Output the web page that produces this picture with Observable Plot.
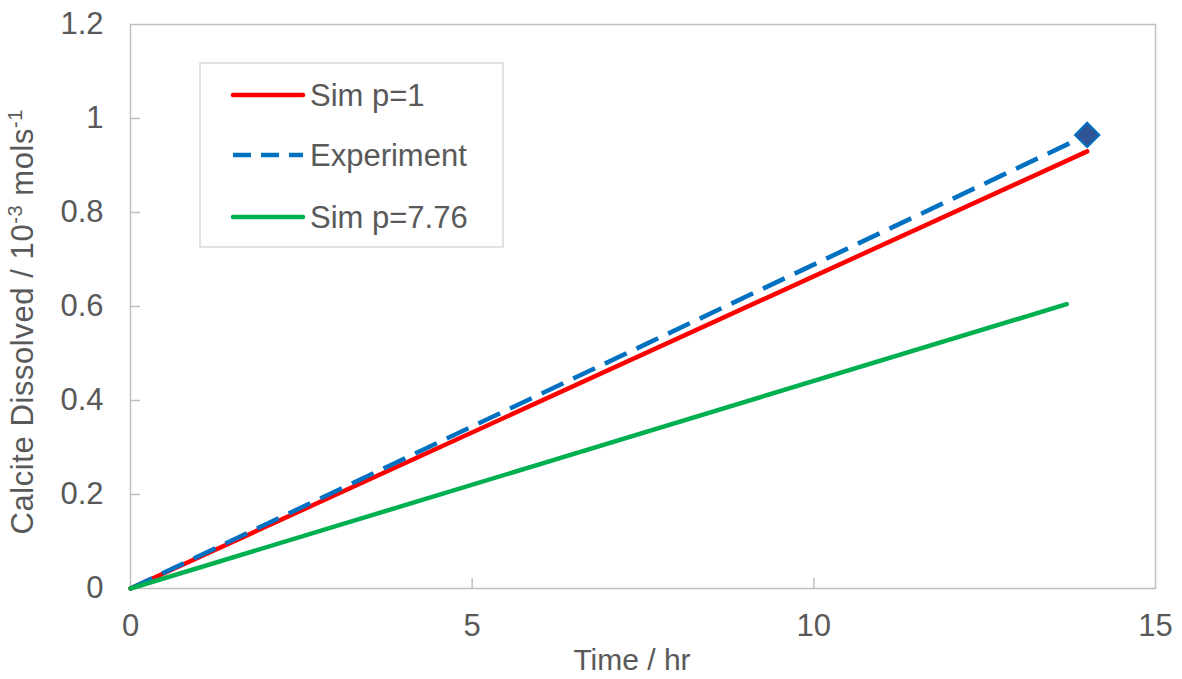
<!DOCTYPE html>
<html><head><meta charset="utf-8">
<script src="https://cdn.jsdelivr.net/npm/d3@7"></script>
<script src="https://cdn.jsdelivr.net/npm/@observablehq/plot@0.6"></script>
<style>body{margin:0;background:#fff;}</style>
</head><body><div id="chart"></div>
<script>
// ---- data ----
const simP1Time = [0, 14];
const simP1Value = [0, 0.93];
const expTime = [0, 14];
const expValue = [0, 0.965];
const simP776Time = [0, 13.7];
const simP776Value = [0, 0.605];
const xTicks = [0, 5, 10, 15];
const xTickLabels = ["0", "5", "10", "15"];
const yTicks = [0, 0.2, 0.4, 0.6, 0.8, 1, 1.2];
const yTickLabels = ["0", "0.2", "0.4", "0.6", "0.8", "1", "1.2"];
const seriesNames = ["Sim p=1", "Experiment", "Sim p=7.76"];
const seriesColors = ["#ff0000", "#0070c0", "#00b050"];
const xTitle = "Time / hr";

const rows = (ts, vs) => ts.map((t, i) => ({t, v: vs[i]}));
const sim1 = rows(simP1Time, simP1Value);
const exp = rows(expTime, expValue);
const sim776 = rows(simP776Time, simP776Value);

const W = 1182, H = 679;
const mL = 130, mR = 27, mT = 24, mB = 91;
const innerW = W - mL - mR, innerH = H - mT - mB;
const txt = "#595959", grid = "#bfbfbf";
const font = "'Liberation Sans', Arial, sans-serif";

const plot = Plot.plot({
  width: W, height: H,
  marginLeft: mL, marginRight: mR, marginTop: mT, marginBottom: mB,
  style: {fontFamily: font, fontSize: "31px", color: txt, background: "#fff"},
  x: {domain: [0, 15]},
  y: {domain: [0, 1.2]},
  marks: [
    Plot.axisX(xTicks, {tickSize: 0, tickPadding: 25, label: null, fill: txt,
      tickFormat: d => xTickLabels[xTicks.indexOf(d)]}),
    Plot.axisY(yTicks, {tickSize: 0, tickPadding: 27, label: null, fill: txt,
      tickFormat: d => yTickLabels[yTicks.indexOf(d)]}),
    Plot.tickX(xTicks.slice(1, -1), {x: d => d, stroke: grid, strokeWidth: 1.5, insetTop: innerH - 10}),
    Plot.tickY(yTicks.slice(1, -1), {y: d => d, stroke: grid, strokeWidth: 1.5, insetRight: innerW - 10}),
    Plot.frame({stroke: grid, strokeWidth: 1.5}),
    Plot.line(sim1, {x: "t", y: "v", stroke: seriesColors[0], strokeWidth: 4.5, strokeLinecap: "round"}),
    Plot.line(exp, {x: "t", y: "v", stroke: seriesColors[1], strokeWidth: 4.5, strokeDasharray: "24,11", strokeLinecap: "butt"}),
    Plot.dot(exp.slice(-1), {x: "t", y: "v", symbol: "diamond2", r: 11, fill: "#2f5597", stroke: seriesColors[1], strokeWidth: 2}),
    Plot.line(sim776, {x: "t", y: "v", stroke: seriesColors[2], strokeWidth: 4.5, strokeLinecap: "round"})
  ]
});

const svg = d3.select(plot);

// x axis title
svg.append("text")
  .attr("x", 632).attr("y", 670)
  .attr("text-anchor", "middle")
  .attr("font-family", font).attr("font-size", 30).attr("fill", txt)
  .text(xTitle);

// y axis title with superscripts
const yt = svg.append("text")
  .attr("transform", "translate(33,322) rotate(-90)")
  .attr("text-anchor", "middle")
  .attr("textLength", 425)
  .attr("font-family", font).attr("font-size", 31).attr("fill", txt);
yt.append("tspan").text("Calcite Dissolved / 10");
yt.append("tspan").attr("baseline-shift", "super").attr("font-size", 20).text("-3");
yt.append("tspan").text(" mols");
yt.append("tspan").attr("baseline-shift", "super").attr("font-size", 20).text("-1");

// legend
const lg = svg.append("g");
lg.append("rect").attr("x", 200).attr("y", 63).attr("width", 303).attr("height", 184)
  .attr("fill", "#fff").attr("stroke", "#d9d9d9").attr("stroke-width", 1.5);
const ly = [95, 155, 217];
seriesNames.forEach((name, i) => {
  lg.append("line").attr("x1", 233).attr("x2", 303).attr("y1", ly[i]).attr("y2", ly[i])
    .attr("stroke", seriesColors[i]).attr("stroke-width", 4.5)
    .attr("stroke-linecap", i === 1 ? "butt" : "round")
    .attr("stroke-dasharray", i === 1 ? "18,10" : null);
  lg.append("text").attr("x", 310).attr("y", ly[i] + 11)
    .attr("text-anchor", "start")
    .attr("font-family", font).attr("font-size", 31).attr("fill", txt)
    .text(name);
});

document.getElementById("chart").appendChild(plot);
</script>
</body></html>
